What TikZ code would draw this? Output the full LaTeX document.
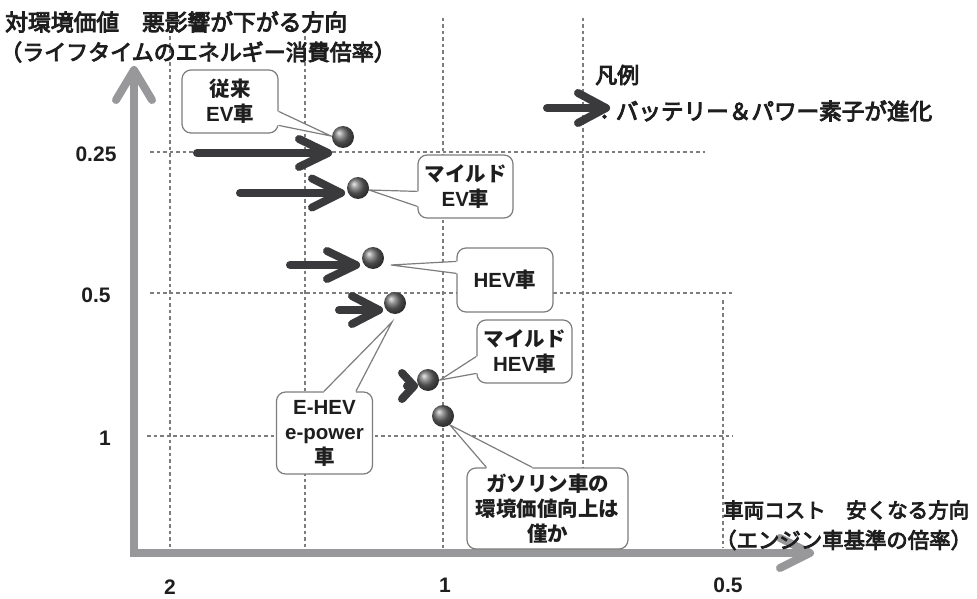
\documentclass[tikz,border=0pt]{standalone}
\usepackage{fontspec}
\setmainfont{Noto Sans CJK JP}
\newfontfamily\jpmed{Noto Sans CJK JP}[FakeBold=4]
\newfontfamily\latf{Liberation Sans}
\usetikzlibrary{calc}
\definecolor{axisgray}{RGB}{152,152,155}
\definecolor{gridgray}{RGB}{125,125,125}
\definecolor{arrowdark}{RGB}{58,58,60}
\definecolor{boxgray}{RGB}{125,125,125}
\definecolor{txt}{RGB}{30,30,30}
\newcommand\chevtip[3]{\draw[fatarrow] ($(#1)+(-#2,-#3)$) -- (#1) -- ($(#1)+(-#2,#3)$);}
\newcommand\wedgeptr[4]{\fill[white] ($(#1)+#4$) -- (#1) -- (#3) -- (#2) -- ($(#2)+#4$) -- cycle;
  \draw[ptrline] (#1) -- (#3) -- (#2);}
\newcommand\boxfont{\bfseries\fontsize{20.5}{25}\selectfont}
\newcommand\lt[1]{{\latf\bfseries #1}}
\begin{document}
\begin{tikzpicture}[x=1pt,y=-1pt,
  gridline/.style={draw=gridgray, line width=1.2pt, dash pattern=on 3.5pt off 3pt},
  axisline/.style={draw=axisgray, line width=8pt},
  fatarrow/.style={draw=arrowdark, line width=8pt, line cap=round, line join=round},
  callbox/.style={draw=boxgray, line width=1.2pt, fill=white, rounded corners=9pt, align=center, font=\boxfont, text=txt, inner sep=0pt},
  ptrline/.style={draw=boxgray, line width=1.2pt},
  sphere/.style={circle, minimum size=22pt, inner sep=0pt, ball color=black!58},
  ticklab/.style={font=\latf\bfseries\fontsize{21}{24}\selectfont, text=txt, inner sep=0pt},
  titlelab/.style={anchor=west, inner sep=0pt, text=txt}
]
\useasboundingbox (0,0) rectangle (977,599);

% grid
\draw[gridline] (170,30) -- (170,548);
\draw[gridline] (305,30) -- (305,548);
\draw[gridline] (443,18) -- (443,548);
\draw[gridline] (583,18) -- (583,548);
\draw[gridline] (723,300) -- (723,548);
\draw[gridline] (150,152) -- (705,152);
\draw[gridline] (150,293) -- (733,293);
\draw[gridline] (147,436) -- (733,436);

% axes
\coordinate (yTop) at (134,70);
\coordinate (origin) at (134,553);
\coordinate (xEnd) at (810,553);
\draw[axisline] (yTop) -- (origin) -- (xEnd);
\draw[axisline, line cap=round, line join=round] (116,100) -- (yTop) -- (152,100);
\draw[axisline, line cap=round, line join=round] (780,538) -- (xEnd) -- (780,568);

% titles
\node[titlelab, font=\jpmed\fontsize{22.8}{28}\selectfont] (t1) at (5,22) {対環境価値　悪影響が下がる方向};
\node[titlelab, font=\jpmed\fontsize{22}{26}\selectfont] (t2) at (0,52) {（ライフタイムのエネルギー消費倍率）};
\node[titlelab, font=\jpmed\fontsize{20.5}{24}\selectfont] (t3) at (723,510) {車両コスト　安くなる方向};
\node[titlelab, font=\jpmed\fontsize{21.4}{24}\selectfont] (t4) at (715,540) {（エンジン車基準の倍率）};

% ticks
\node[ticklab] (ty1) at (96,154) {0.25};
\node[ticklab] (ty2) at (96,295) {0.5};
\node[ticklab] (ty3) at (105,438) {1};
\node[ticklab] (tx1) at (170,587) {2};
\node[ticklab] (tx2) at (445,585) {1};
\node[ticklab] (tx3) at (728,585) {0.5};

% legend
\node[titlelab, font=\jpmed\fontsize{22}{26}\selectfont] (lg1) at (595,75) {凡例};
\node[titlelab, font=\jpmed\fontsize{22.6}{26}\selectfont] (lg2) at (593,111) {：バッテリー＆パワー素子が進化};
\coordinate (lgs) at (547,108);
\coordinate (lgt) at (606,108);
\draw[fatarrow] (lgs) -- (lgt);
\chevtip{lgt}{28}{15}

% callout boxes
\node[callbox, minimum width=96pt, minimum height=63pt] (b1) at (230,101.5) {従来\\\lt{EV}車};
\node[callbox, minimum width=95pt, minimum height=63pt] (b2) at (465.5,186.5) {マイルド\\\lt{EV}車};
\node[callbox, minimum width=96pt, minimum height=64pt] (b3) at (505,280) {\lt{HEV}車};
\node[callbox, minimum width=95pt, minimum height=63pt] (b4) at (524.5,351.5) {マイルド\\\lt{HEV}車};
\node[callbox, minimum width=96pt, minimum height=82pt] (b5) at (324.5,433) {\lt{E-HEV}\\\lt{e-power}\\車};
\node[callbox, minimum width=161pt, minimum height=81pt] (b6) at (547.5,508.5) {ガソリン車の\\環境価値向上は\\僅か};

% spheres positions
\coordinate (c1) at (343,137);
\coordinate (c2) at (358,188);
\coordinate (c3) at (373,258);
\coordinate (c4) at (395,303);
\coordinate (c5) at (428,380);
\coordinate (c6) at (443,416);

% pointers
\coordinate (p1a) at ($(b1.north east)+(0,42)$);
\coordinate (p1b) at ($(b1.north east)+(0,56)$);
\coordinate (p1t) at ($(c1)+(-12,-1)$);
\wedgeptr{p1a}{p1b}{p1t}{(-2.5,0)}
\coordinate (p2a) at ($(b2.north west)+(0,37)$);
\coordinate (p2b) at ($(b2.north west)+(0,52)$);
\coordinate (p2t) at ($(c2)+(11,2)$);
\wedgeptr{p2a}{p2b}{p2t}{(2.5,0)}
\coordinate (p3a) at ($(b3.north west)+(0,14)$);
\coordinate (p3b) at ($(b3.north west)+(0,26)$);
\coordinate (p3t) at ($(c3)+(18,7)$);
\wedgeptr{p3a}{p3b}{p3t}{(2.5,0)}
\coordinate (p4a) at ($(b4.north west)+(0,37)$);
\coordinate (p4b) at ($(b4.north west)+(0,54)$);
\coordinate (p4t) at ($(c5)+(12,0)$);
\wedgeptr{p4a}{p4b}{p4t}{(2.5,0)}
\coordinate (p5a) at ($(b5.north west)+(48,0)$);
\coordinate (p5b) at ($(b5.north west)+(80,0)$);
\coordinate (p5t) at ($(c4)+(-3,19)$);
\wedgeptr{p5a}{p5b}{p5t}{(0,2.5)}
\coordinate (p6a) at ($(b6.north west)+(20,0)$);
\coordinate (p6b) at ($(b6.north west)+(66,0)$);
\coordinate (p6t) at ($(c6)+(7,9)$);
\wedgeptr{p6a}{p6b}{p6t}{(0,2.5)}

% improvement arrows
\coordinate (a1s) at (197,153); \coordinate (a1t) at (328,153);
\coordinate (a2s) at (240,193); \coordinate (a2t) at (341,193);
\coordinate (a3s) at (290,265); \coordinate (a3t) at (356,265);
\coordinate (a4s) at (339,310); \coordinate (a4t) at (379,310);
\coordinate (a5s) at (407,386); \coordinate (a5t) at (414,386);
\draw[fatarrow] (a1s) -- (a1t); \chevtip{a1t}{29}{14}
\draw[fatarrow] (a2s) -- (a2t); \chevtip{a2t}{29}{14.5}
\draw[fatarrow] (a3s) -- (a3t); \chevtip{a3t}{29}{14}
\draw[fatarrow] (a4s) -- (a4t); \chevtip{a4t}{27}{14}
\draw[fatarrow] (a5s) -- (a5t); \chevtip{a5t}{12}{13}

% spheres
\node[sphere] (s1) at (c1) {};
\node[sphere] (s2) at (c2) {};
\node[sphere] (s3) at (c3) {};
\node[sphere] (s4) at (c4) {};
\node[sphere] (s5) at (c5) {};
\node[sphere] (s6) at (c6) {};
\end{tikzpicture}
\end{document}
